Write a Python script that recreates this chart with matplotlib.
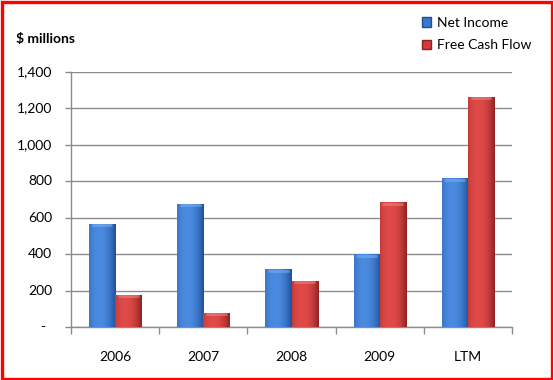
import numpy as np
import matplotlib
matplotlib.use("Agg")
import matplotlib.pyplot as plt
from matplotlib.patches import Patch, Rectangle
from matplotlib.colors import to_rgb
from matplotlib.transforms import blended_transform_factory

categories = ["2006", "2007", "2008", "2009", "LTM"]
net_income = [566, 676, 318, 400, 817]
free_cash_flow = [177, 77, 254, 685, 1264]
ytick_values = [0, 200, 400, 600, 800, 1000, 1200, 1400]
ytick_labels = ["-", "200", "400", "600", "800", "1,000", "1,200", "1,400"]

plt.rcParams['font.family'] = ['Lato', 'DejaVu Sans']

fig = plt.figure(figsize=(5.53, 3.80), dpi=100)
ax = fig.add_axes([71/553, 53/380, 441/553, 255/380])

x = np.arange(len(categories))
w = 0.295


def shaded(bars, light, dark, top):
    # paint a horizontal gradient inside each bar for the cylinder look
    lo = np.array(to_rgb(dark))
    hi = np.array(to_rgb(light))
    t = np.linspace(0, 1, 64)
    k = np.clip(1 - (np.abs(t - 0.38) / 0.62) ** 2.2, 0, 1)
    grad = lo[None, :] + (hi - lo)[None, :] * k[:, None]
    img = grad[None, :, :]
    for b in bars:
        bx, by = b.get_x(), b.get_y()
        bw, bh = b.get_width(), b.get_height()
        im = ax.imshow(img, extent=[bx, bx + bw, by, by + bh], aspect='auto',
                       zorder=3, interpolation='bicubic')
        im.set_clip_path(b)
        b.set_facecolor('none')
        # light bevel along the top edge
        ax.plot([bx + bw * 0.1, bx + bw * 0.9], [by + bh - 8, by + bh - 8],
                color=top, lw=2, alpha=0.55, zorder=4, solid_capstyle='butt')


b1 = ax.bar(x - w/2, net_income, w, color='#3a78cf', zorder=3, linewidth=0)
b2 = ax.bar(x + w/2, free_cash_flow, w, color='#d23b3b', zorder=3, linewidth=0)
shaded(b1, '#4a8ae0', '#1f4f96', '#7fb2f0')
shaded(b2, '#e04a48', '#8c2222', '#f08a86')

ax.set_xlim(-0.5, len(categories) - 0.5)
ax.set_ylim(0, 1400)
ax.set_yticks(ytick_values)
ax.set_yticklabels([])
ax.yaxis.grid(True, color='#8c8c8c', linewidth=1)
ax.set_axisbelow(True)

# y labels placed at a fixed pixel column, like the accounting format
tr = blended_transform_factory(fig.transFigure, ax.transData)
for v, lab in zip(ytick_values, ytick_labels):
    xr = 45/553 if lab == "-" else 52/553
    ax.text(xr, v, lab, transform=tr, ha='right', va='center', fontsize=10,
            clip_on=False)

ax.set_xticks(x)
ax.set_xticklabels(categories, fontsize=10)
ax.tick_params(axis='x', which='major', length=0, pad=17)
ax.set_xticks(np.arange(len(categories) + 1) - 0.5, minor=True)
ax.tick_params(axis='x', which='minor', length=5, color='#8c8c8c', width=1)
ax.tick_params(axis='y', length=4, color='#8c8c8c', width=1)

for s in ['top', 'right']:
    ax.spines[s].set_visible(False)
for s in ['left', 'bottom']:
    ax.spines[s].set_color('#8c8c8c')
    ax.spines[s].set_linewidth(1)

fig.text(16/553, 1 - 39/380, "$ millions", fontsize=10, fontweight='bold',
         va='center', ha='left')

handles = [Patch(facecolor='#3a78cf', edgecolor='#1f4f96', label='Net Income'),
           Patch(facecolor='#d23b3b', edgecolor='#8c2222', label='Free Cash Flow')]
fig.legend(handles=handles, loc='upper left', bbox_to_anchor=(415/553, 1 - 10/380),
           frameon=False, fontsize=10, handlelength=0.65, handleheight=0.65,
           handletextpad=0.4, labelspacing=0.75, borderpad=0)

fig.patches.append(Rectangle((1.5/553, 1.5/380), 550/553, 377/380,
                             transform=fig.transFigure, fill=False,
                             edgecolor='#ff0000', linewidth=2.4))

fig.savefig("out.png", dpi=100)
